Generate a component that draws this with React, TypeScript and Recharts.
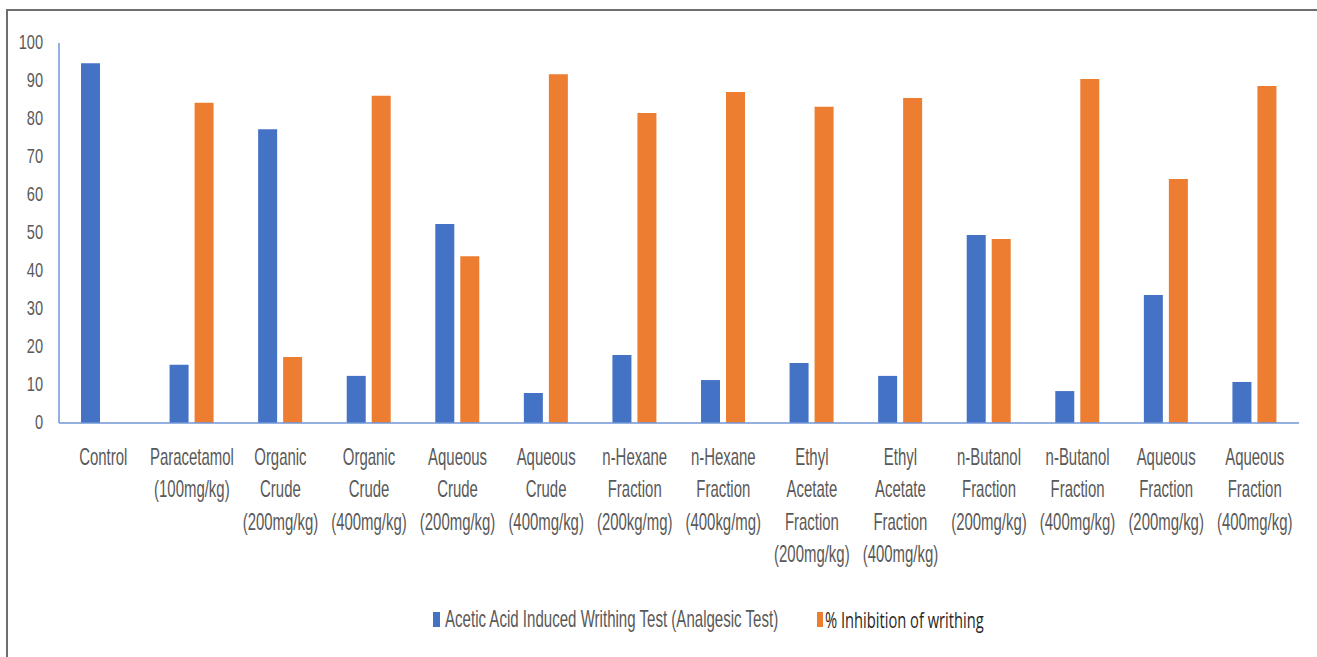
import React from 'react';
import { BarChart, Bar, XAxis, YAxis, Legend } from 'recharts';

const categoryLines: string[][] = [
  ['Control'],
  ['Paracetamol', '(100mg/kg)'],
  ['Organic', 'Crude', '(200mg/kg)'],
  ['Organic', 'Crude', '(400mg/kg)'],
  ['Aqueous', 'Crude', '(200mg/kg)'],
  ['Aqueous', 'Crude', '(400mg/kg)'],
  ['n-Hexane', 'Fraction', '(200kg/mg)'],
  ['n-Hexane', 'Fraction', '(400kg/mg)'],
  ['Ethyl', 'Acetate', 'Fraction', '(200mg/kg)'],
  ['Ethyl', 'Acetate', 'Fraction', '(400mg/kg)'],
  ['n-Butanol', 'Fraction', '(200mg/kg)'],
  ['n-Butanol', 'Fraction', '(400mg/kg)'],
  ['Aqueous', 'Fraction', '(200mg/kg)'],
  ['Aqueous', 'Fraction', '(400mg/kg)'],
];

const writhingValues: (number | null)[] = [94.7, 15.3, 77.3, 12.4, 52.4, 7.9, 17.9, 11.3, 15.8, 12.4, 49.5, 8.4, 33.7, 10.8];
const inhibitionValues: (number | null)[] = [null, 84.3, 17.4, 86.1, 43.9, 91.8, 81.6, 87.1, 83.2, 85.5, 48.4, 90.5, 64.2, 88.7];

const yTicks: number[] = [0, 10, 20, 30, 40, 50, 60, 70, 80, 90, 100];

const seriesNames = ['Acetic Acid Induced Writhing Test (Analgesic Test)', '% Inhibition of writhing'];

const BLUE = '#4472C4';
const ORANGE = '#ED7D31';
const AXIS = '#6f96d6';
const TEXT = '#595959';

const data = categoryLines.map((lines, i) => ({
  name: lines.join(' '),
  writhing: writhingValues[i],
  inhibition: inhibitionValues[i],
}));

const XTick = (props: any) => {
  const { x, y, index } = props;
  const lines = categoryLines[index] || [];
  return (
    <g transform={`translate(${x},${y + 42}) scale(0.65,1)`}>
      {lines.map((l, i) => (
        <text
          key={i}
          x={0}
          y={i * 32.5}
          textAnchor="middle"
          fill={TEXT}
          fontFamily="'Liberation Sans', Arial, sans-serif"
          fontSize={23}
        >
          {l}
        </text>
      ))}
    </g>
  );
};

const YTick = (props: any) => {
  const { x, y, payload } = props;
  return (
    <g transform={`translate(${x},${y + 5.5}) scale(0.73,1)`}>
      <text x={0} y={0} textAnchor="end" fill={TEXT} fontFamily="'Liberation Sans', Arial, sans-serif" fontSize={20}>
        {payload.value}
      </text>
    </g>
  );
};

const renderLegend = () => (
  <svg width={620} height={40}>
    <rect x={5} y={6} width={7} height={15} fill={BLUE} />
    <g transform="translate(17,20.5) scale(0.655,1)">
      <text x={0} y={0} fill={TEXT} fontFamily="'Liberation Sans', Arial, sans-serif" fontSize={23}>
        {seriesNames[0]}
      </text>
    </g>
    <rect x={389} y={6} width={6} height={15} fill={ORANGE} />
    <g transform="translate(397,21.5) scale(0.70,1)">
      <text x={0} y={0} fill="#262626" fontFamily="'Open Sans', sans-serif" fontSize={21}>
        {seriesNames[1]}
      </text>
    </g>
  </svg>
);

export default function App() {
  return (
    <div
      style={{
        position: 'fixed',
        left: 6,
        top: 9,
        width: 1311,
        height: 648,
        borderLeft: '2px solid #6e6e6e',
        borderTop: '2px solid #6e6e6e',
        background: '#fff',
        boxSizing: 'border-box',
      }}
    >
      <BarChart
        width={1309}
        height={640}
        data={data}
        margin={{ top: 32, right: 18, left: 0, bottom: 98 }}
        barSize={19}
        barGap={6}
      >
        <XAxis
          dataKey="name"
          interval={0}
          height={130}
          tickLine={false}
          tickSize={0}
          tickMargin={0}
          axisLine={{ stroke: AXIS, strokeWidth: 1.5 }}
          tick={<XTick />}
        />
        <YAxis
          width={51}
          domain={[0, 100]}
          ticks={yTicks}
          interval={0}
          tickLine={false}
          tickSize={0}
          tickMargin={16}
          axisLine={{ stroke: AXIS, strokeWidth: 1.5 }}
          tick={<YTick />}
        />
        <Bar dataKey="writhing" name={seriesNames[0]} fill={BLUE} isAnimationActive={false} />
        <Bar dataKey="inhibition" name={seriesNames[1]} fill={ORANGE} isAnimationActive={false} />
        <Legend
          verticalAlign="middle"
          align="center"
          layout="horizontal"
          wrapperStyle={{ position: 'absolute', left: 420, top: 595, width: 620, height: 40 }}
          content={renderLegend}
        />
      </BarChart>
    </div>
  );
}
